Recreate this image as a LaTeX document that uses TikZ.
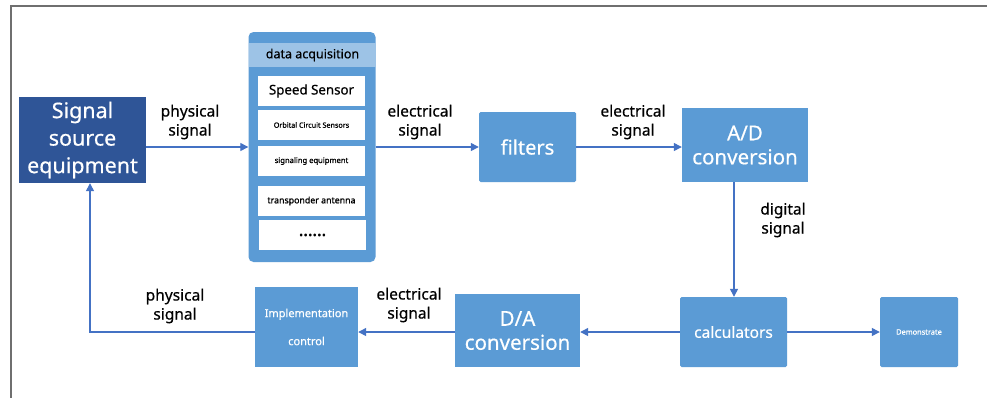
\documentclass[tikz,border=0pt]{standalone}
\usepackage{fontspec}
\setmainfont{Noto Sans}
\newfontface\medfont{Noto Sans}[FakeBold=0.5]
\newfontface\semifont{Noto Sans}[FakeBold=1.0]
\newfontface\dotfont{Noto Sans}[FakeBold=2.5]
\usetikzlibrary{arrows.meta}
\definecolor{boxblue}{HTML}{5B9BD5}
\definecolor{darkblue}{HTML}{2F5597}
\definecolor{headblue}{HTML}{9DC3E6}
\definecolor{arrowblue}{HTML}{4472C4}
\definecolor{framegray}{HTML}{6F6F6F}
\tikzset{
  px/.style={x=1pt,y=-1pt},
  blockbox/.style={fill=boxblue, draw=none, rounded corners=1.5pt, text=white, align=center, inner sep=0pt},
  whitebox/.style={fill=white, draw=none, align=center, inner sep=0pt, text=black},
  conn/.style={draw=arrowblue, line width=1.3pt, -{Triangle[length=8pt,width=8pt]}},
  lbl/.style={align=center, text=black, font=\medfont\fontsize{15.5}{19}\selectfont, inner sep=0pt},
}
\begin{document}
\begin{tikzpicture}[px]
\useasboundingbox (0,0) rectangle (987,397);
\fill[white] (0,0) rectangle (987,397);
% frame
\draw[framegray, line width=1.8pt] (11,400) -- (11,6) -- (990,6);

% signal source
\node[fill=darkblue, text=white, align=center, inner sep=0pt, minimum width=127pt, minimum height=86pt,
  font=\medfont\fontsize{21.5}{27.5}\selectfont] (src) at (82.5,140) {Signal\\source\\equipment};

% data acquisition
\node[fill=boxblue, rounded corners=5pt, minimum width=127pt, minimum height=230pt, inner sep=0pt] (daq) at (312,147) {};
\node[fill=headblue, inner sep=0pt, minimum width=127pt, minimum height=24pt, font=\medfont\fontsize{12.5}{14}\selectfont] (daqh) at (312.5,55) {data acquisition};
\node[whitebox, minimum width=107pt, minimum height=30pt, font=\medfont\fontsize{13.3}{15}\selectfont] (s1) at (311.5,91) {Speed Sensor};
\node[whitebox, minimum width=107pt, minimum height=30pt, font=\semifont\fontsize{7.2}{9}\selectfont] (s2) at (311.5,125) {Orbital Circuit Sensors};
\node[whitebox, minimum width=107pt, minimum height=30pt, font=\semifont\fontsize{7.6}{9}\selectfont] (s3) at (311.5,161) {signaling equipment};
\node[whitebox, minimum width=107pt, minimum height=30pt, font=\semifont\fontsize{8.8}{9}\selectfont] (s4) at (311.5,201) {transponder antenna};
\node[whitebox, minimum width=107pt, minimum height=30pt, font=\dotfont\fontsize{17}{9}\selectfont] (s5) at (312.5,235) {......};

% filters
\node[blockbox, minimum width=97pt, minimum height=70pt, font=\medfont\fontsize{20}{22}\selectfont] (flt) at (527.5,147) {filters};
% A/D
\node[blockbox, rounded corners=0pt, minimum width=126pt, minimum height=74pt, font=\medfont\fontsize{20.5}{24}\selectfont] (ad) at (745,145) {A/D\\conversion};
% calculators
\node[blockbox, minimum width=107pt, minimum height=70pt, font=\medfont\fontsize{15.5}{18}\selectfont] (calc) at (733.5,332) {calculators};
% demonstrate
\node[blockbox, minimum width=78pt, minimum height=70pt, font=\semifont\fontsize{7.4}{9}\selectfont] (demo) at (919,332) {Demonstrate};
% D/A
\node[blockbox, rounded corners=0pt, minimum width=125pt, minimum height=73pt, font=\medfont\fontsize{20.5}{24}\selectfont] (da) at (517.5,330.5) {D/A\\conversion};
% implementation control
\node[blockbox, rounded corners=0pt, minimum width=103pt, minimum height=80pt, font=\medfont\fontsize{11}{28}\selectfont] (impl) at (306.5,327) {Implementation\\control};

% connectors
\draw[conn] (src.east |- 0,147) -- (daq.west |- 0,147);
\draw[conn] (daq.east |- 0,147) -- (flt.west |- 0,147);
\draw[conn] (flt.east |- 0,147) -- (ad.west |- 0,147);
\draw[conn] (734,182) -- (calc.north -| 734,0);
\draw[conn] (calc.east) -- (demo.west);
\draw[conn] (calc.west) -- (da.east |- calc.west);
\draw[conn] (da.west |- calc.west) -- (impl.east |- calc.west);
\draw[conn] (impl.west |- calc.west) -- (90,332) -- (src.south -| 90,0);

% labels
\node[lbl] (l1) at (190,122) {physical\\signal};
\node[lbl] (l2) at (420,122) {electrical\\signal};
\node[lbl] (l3) at (633,122) {electrical\\signal};
\node[lbl] (l4) at (783,220) {digital\\signal};
\node[lbl] (l5) at (409,305) {electrical\\signal};
\node[lbl] (l6) at (175,306) {physical\\signal};
\end{tikzpicture}
\end{document}
